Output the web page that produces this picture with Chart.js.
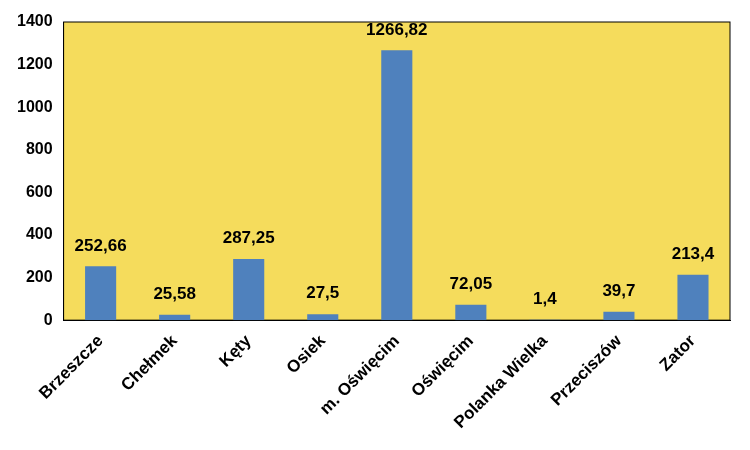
<!DOCTYPE html>
<html><head><meta charset="utf-8">
<script src="https://cdn.jsdelivr.net/npm/chart.js@4"></script>
<style>body{margin:0;background:#fff}#wrap{width:750px;height:450px}</style>
</head><body><div id="wrap"><canvas id="c"></canvas></div>
<script>
const categories = ['Brzeszcze', 'Chełmek', 'Kęty', 'Osiek', 'm. Oświęcim', 'Oświęcim', 'Polanka Wielka', 'Przeciszów', 'Zator'];
const values = [252.66, 25.58, 287.25, 27.5, 1266.82, 72.05, 1.4, 39.7, 213.4];

const areaBg = {
  id: 'areaBg',
  beforeDraw(chart) {
    const {ctx, chartArea: a} = chart;
    ctx.save();
    ctx.fillStyle = '#F5DC5C';
    ctx.fillRect(a.left, a.top, a.right - a.left, a.bottom - a.top);
    ctx.strokeStyle = '#000';
    ctx.lineWidth = 1;
    ctx.strokeRect(a.left, a.top, a.right - a.left, a.bottom - a.top);
    ctx.restore();
  }
};
const valueLabels = {
  id: 'valueLabels',
  afterDatasetsDraw(chart) {
    const {ctx} = chart;
    ctx.save();
    ctx.font = 'bold 17px "Liberation Sans"';
    ctx.fillStyle = '#000';
    ctx.textAlign = 'center';
    ctx.textBaseline = 'bottom';
    chart.getDatasetMeta(0).data.forEach((bar, i) => {
      ctx.fillText(String(values[i]).replace('.', ','), bar.x, bar.y - 12);
    });
    ctx.restore();
  }
};

new Chart(document.getElementById('c'), {
  type: 'bar',
  data: { labels: categories, datasets: [{ data: values, backgroundColor: '#4F81BD', categoryPercentage: 1, barPercentage: 0.42 }] },
  options: {
    responsive: true, maintainAspectRatio: false, animation: false,
    layout: { padding: { top: 22, right: 20, left: 14, bottom: 14 } },
    plugins: { legend: { display: false }, tooltip: { enabled: false } },
    scales: {
      x: {
        grid: { display: false },
        border: { color: '#000' },
        ticks: { color: '#000', font: { family: 'Liberation Sans', weight: 'bold', size: 17 }, maxRotation: 45, minRotation: 45 }
      },
      y: {
        min: 0, max: 1400,
        grid: { display: false },
        border: { color: '#000' },
        ticks: { stepSize: 200, color: '#000', font: { family: 'Liberation Sans', weight: 'bold', size: 16 }, callback: v => String(v) }
      }
    }
  },
  plugins: [areaBg, valueLabels]
});
</script></body></html>
